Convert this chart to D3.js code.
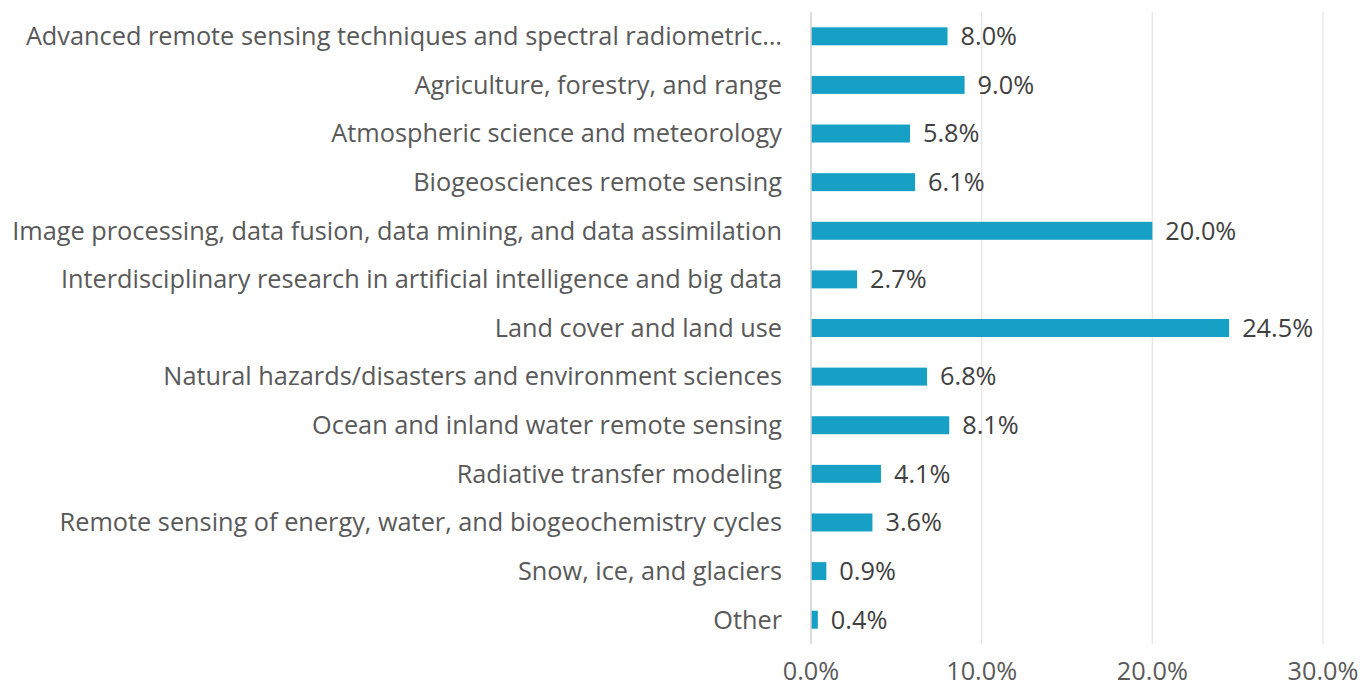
<!DOCTYPE html>
<html lang="en">
<head>
<meta charset="utf-8">
<title>Research topics</title>
<script src="https://cdnjs.cloudflare.com/ajax/libs/d3/7.8.5/d3.min.js"></script>
<style>
  body { margin: 0; background: #fff; }
  svg text { font-family: "Open Sans", sans-serif; }
</style>
</head>
<body>
<svg id="chart"></svg>
<script>
var categories = [
  "Advanced remote sensing techniques and spectral radiometric\u2026",
  "Agriculture, forestry, and range",
  "Atmospheric science and meteorology",
  "Biogeosciences remote sensing",
  "Image processing, data fusion, data mining, and data assimilation",
  "Interdisciplinary research in artificial intelligence and big data",
  "Land cover and land use",
  "Natural hazards/disasters and environment sciences",
  "Ocean and inland water remote sensing",
  "Radiative transfer modeling",
  "Remote sensing of energy, water, and biogeochemistry cycles",
  "Snow, ice, and glaciers",
  "Other"
];
var values = [8.0, 9.0, 5.8, 6.1, 20.0, 2.7, 24.5, 6.8, 8.1, 4.1, 3.6, 0.9, 0.4];
var ticks = [0, 10, 20, 30];

var w = 1369, h = 688;
var plotLeft = 811, plotRight = 1323, plotTop = 12, plotBottom = 644;

var svg = d3.select("#chart").attr("width", w).attr("height", h);

var x = d3.scaleLinear().domain([0, 30]).range([plotLeft, plotRight]);
var y = d3.scaleBand().domain(categories).range([plotTop, plotBottom]).paddingInner(0.63).paddingOuter(0.315);

// gridlines
svg.append("g").selectAll("line").data(ticks.slice(1)).enter().append("line")
  .attr("x1", function(d) { return x(d); }).attr("x2", function(d) { return x(d); })
  .attr("y1", plotTop).attr("y2", plotBottom)
  .attr("stroke", "#e6e6e6").attr("stroke-width", 1.3);

// bars
svg.append("g").selectAll("rect").data(values).enter().append("rect")
  .attr("x", x(0))
  .attr("y", function(d, i) { return y(categories[i]); })
  .attr("width", function(d) { return x(d) - x(0); })
  .attr("height", y.bandwidth())
  .attr("fill", "#17a0c6");

// axis line
svg.append("line")
  .attr("x1", x(0)).attr("x2", x(0)).attr("y1", plotTop).attr("y2", plotBottom)
  .attr("stroke", "#cfcfcf").attr("stroke-width", 1.5);

// category labels
var cats = svg.append("g").selectAll("text").data(categories).enter().append("text")
  .attr("x", 782)
  .attr("y", function(d) { return y(d) + y.bandwidth() / 2; })
  .attr("dy", "0.35em")
  .attr("text-anchor", "end")
  .attr("fill", "#595959")
  .style("font-size", "22px")
  .text(function(d) { return d; });

// fit longest label to the reference width
var longest = d3.max(cats.nodes(), function(n) { return n.getComputedTextLength(); });
var fs = 22 * 770 / longest;
cats.style("font-size", fs + "px");

// value labels
svg.append("g").selectAll("text").data(values).enter().append("text")
  .attr("x", function(d) { return x(d) + 13; })
  .attr("y", function(d, i) { return y(categories[i]) + y.bandwidth() / 2; })
  .attr("dy", "0.35em")
  .attr("fill", "#404040")
  .style("font-size", fs + "px")
  .text(function(d) { return d.toFixed(1) + "%"; });

// x axis tick labels
svg.append("g").selectAll("text").data(ticks).enter().append("text")
  .attr("x", function(d) { return x(d); })
  .attr("y", 671)
  .attr("dy", "0.35em")
  .attr("text-anchor", "middle")
  .attr("fill", "#595959")
  .style("font-size", fs + "px")
  .text(function(d) { return d.toFixed(1) + "%"; });
</script>
</body>
</html>
